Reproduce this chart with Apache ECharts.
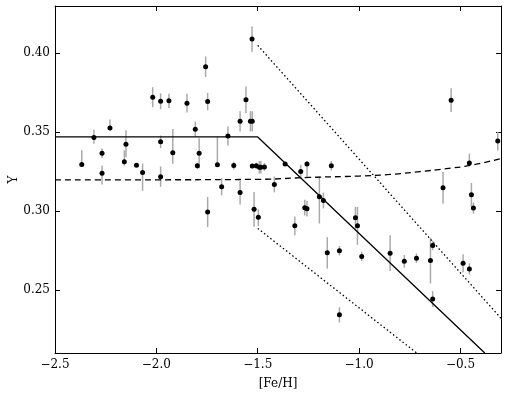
<!DOCTYPE html>
<html>
<head>
<meta charset="utf-8">
<script src="https://cdn.jsdelivr.net/npm/echarts@6/dist/echarts.min.js"></script>
<style>
  html, body { margin: 0; padding: 0; background: #fff; }
  #chart { width: 509px; height: 393px; }
</style>
</head>
<body>
<div id="chart"></div>
<script>
// star data: [Fe/H], Y and its error bar (minus / plus)
var feh = [-2.368, -2.308, -2.268, -2.268, -2.229, -2.158, -2.150, -2.098, -2.068, -2.018,
    -1.979, -1.979, -1.979, -1.938, -1.919, -1.849, -1.808, -1.798, -1.789, -1.757,
    -1.747, -1.747, -1.699, -1.678, -1.647, -1.618, -1.587, -1.587, -1.558, -1.536,
    -1.527, -1.528, -1.527, -1.507, -1.492, -1.485, -1.467, -1.518, -1.497, -1.418,
    -1.365, -1.288, -1.257, -1.137, -1.196, -1.176, -1.268, -1.257, -1.317, -1.018,
    -1.008, -1.157, -1.097, -1.097, -0.987, -0.847, -0.777, -0.717, -0.648, -0.637,
    -0.637, -0.487, -0.456, -0.446, -0.436, -0.586, -0.456, -0.546, -0.316];
var yHe = [0.3295, 0.3466, 0.3367, 0.3239, 0.3526, 0.3312, 0.3423, 0.3290, 0.3244, 0.3722,
    0.3696, 0.3439, 0.3218, 0.3699, 0.3370, 0.3684, 0.3519, 0.3287, 0.3367, 0.3915,
    0.3694, 0.2994, 0.3293, 0.3154, 0.3476, 0.3288, 0.3569, 0.3117, 0.3705, 0.3569,
    0.3569, 0.4090, 0.3285, 0.3287, 0.3278, 0.3278, 0.3280, 0.3011, 0.2960, 0.3169,
    0.3299, 0.3250, 0.3298, 0.3287, 0.3091, 0.3067, 0.3021, 0.3015, 0.2906, 0.2957,
    0.2906, 0.2735, 0.2748, 0.2342, 0.2712, 0.2733, 0.2681, 0.2701, 0.2686, 0.2782,
    0.2442, 0.2669, 0.2633, 0.3103, 0.3019, 0.3147, 0.3304, 0.3703, 0.3444];
var errLo = [0.001, 0.004, 0.003, 0.007, 0.0015, 0.0025, 0.008, 0.001, 0.0116, 0.0063,
    0.005, 0.004, 0.0065, 0.0045, 0.007, 0.006, 0.0048, 0.002, 0.0095, 0.0065,
    0.0055, 0.0095, 0.001, 0.0055, 0.006, 0.0025, 0.0064, 0.0075, 0.0085, 0.0064,
    0.0064, 0.008, 0.0015, 0.002, 0.004, 0.004, 0.0025, 0.011, 0.0056, 0.005,
    0.001, 0.0043, 0.008, 0.003, 0.017, 0.005, 0.005, 0.005, 0.006, 0.007,
    0.012, 0.010, 0.003, 0.0048, 0.003, 0.0113, 0.004, 0.003, 0.0145, 0.003,
    0.005, 0.0057, 0.0035, 0.0075, 0.0035, 0.010, 0.001, 0.0075, 0.006];
var errHi = [0.009, 0.005, 0.003, 0.005, 0.0055, 0.0073, 0.009, 0.001, 0.0057, 0.0063,
    0.005, 0.004, 0.0065, 0.0045, 0.015, 0.006, 0.0048, 0.002, 0.0095, 0.0065,
    0.0055, 0.0095, 0.018, 0.0055, 0.006, 0.0025, 0.0064, 0.0075, 0.0085, 0.0064,
    0.0064, 0.008, 0.0015, 0.002, 0.004, 0.004, 0.0025, 0.011, 0.005, 0.005,
    0.001, 0.0043, 0.002, 0.003, 0.013, 0.005, 0.005, 0.005, 0.006, 0.007,
    0.012, 0.010, 0.003, 0.0048, 0.003, 0.0113, 0.004, 0.003, 0.0145, 0.003,
    0.005, 0.0057, 0.0035, 0.0075, 0.0035, 0.010, 0.006, 0.0075, 0.0057];

// model lines
var solidLine = [[-2.5, 0.347], [-1.5, 0.347], [-0.38, 0.21]];
var upperDotted = [[-1.5, 0.405], [-0.3, 0.232]];
var lowerDotted = [[-1.5, 0.289], [-0.716, 0.21]];
var dashedCurve = [[-2.5, 0.3197], [-2.0, 0.3198], [-1.5, 0.3201], [-1.25, 0.3213], [-1.0, 0.3222],
    [-0.85, 0.3232], [-0.7, 0.3250], [-0.58, 0.3267], [-0.45, 0.3290], [-0.3, 0.3333]];

// tick labels
var xTicks = [-2.5, -2.0, -1.5, -1.0, -0.5];
var yTicks = [0.25, 0.30, 0.35, 0.40];

var myChart = echarts.init(document.getElementById('chart'));

var points = [];
var bars = [];
for (var i = 0; i < feh.length; i++) {
    points.push([feh[i], yHe[i]]);
    bars.push([feh[i], yHe[i] - errLo[i], yHe[i] + errHi[i]]);
}

var font = 'DejaVu Serif';
var axisLine = {show: true, onZero: false, lineStyle: {color: '#000', width: 1}};

var option = {
    backgroundColor: '#fff',
    animation: false,
    grid: {left: 55, right: 8, top: 6, bottom: 40, outerBoundsMode: 'none', containLabel: false},
    xAxis: [{
        type: 'value', min: -2.5, max: -0.3,
        axisLine: axisLine,
        axisTick: {show: true, inside: true, length: 5, customValues: xTicks, lineStyle: {color: '#000'}},
        axisLabel: {
            customValues: xTicks, margin: 6, color: '#000', fontFamily: font, fontSize: 12,
            formatter: function (v) { return v.toFixed(1).replace('-', '\u2212'); }
        },
        splitLine: {show: false},
        name: '[Fe/H]', nameLocation: 'middle', nameGap: 25, nameMoveOverlap: false,
        nameTextStyle: {color: '#000', fontFamily: font, fontSize: 12}
    }, {
        type: 'value', min: -2.5, max: -0.3, position: 'top',
        axisLine: axisLine,
        axisTick: {show: true, inside: true, length: 5, customValues: xTicks, lineStyle: {color: '#000'}},
        axisLabel: {show: false},
        splitLine: {show: false}
    }],
    yAxis: [{
        type: 'value', min: 0.21, max: 0.43,
        axisLine: axisLine,
        axisTick: {show: true, inside: true, length: 5, customValues: yTicks, lineStyle: {color: '#000'}},
        axisLabel: {
            customValues: yTicks, margin: 5, color: '#000', fontFamily: font, fontSize: 12,
            formatter: function (v) { return v.toFixed(2); }
        },
        splitLine: {show: false},
        name: 'Y', nameLocation: 'middle', nameGap: 35, nameRotate: 90, nameMoveOverlap: false,
        nameTextStyle: {color: '#000', fontFamily: font, fontSize: 12}
    }, {
        type: 'value', min: 0.21, max: 0.43, position: 'right',
        axisLine: axisLine,
        axisTick: {show: true, inside: true, length: 5, customValues: yTicks, lineStyle: {color: '#000'}},
        axisLabel: {show: false},
        splitLine: {show: false}
    }],
    series: [{
        name: 'errors',
        type: 'custom',
        clip: true,
        data: bars,
        renderItem: function (params, api) {
            var p0 = api.coord([api.value(0), api.value(1)]);
            var p1 = api.coord([api.value(0), api.value(2)]);
            return {
                type: 'line',
                shape: {x1: p0[0], y1: p0[1], x2: p1[0], y2: p1[1]},
                style: {stroke: '#aaaaaa', lineWidth: 1.5}
            };
        },
        z: 1
    }, {
        name: 'solid',
        type: 'line', data: solidLine, symbol: 'none', clip: true,
        lineStyle: {color: '#000', width: 1.3}, z: 2
    }, {
        name: 'upper',
        type: 'line', data: upperDotted, symbol: 'none', clip: true,
        lineStyle: {color: '#000', width: 1.3, type: [1.5, 2.5]}, z: 2
    }, {
        name: 'lower',
        type: 'line', data: lowerDotted, symbol: 'none', clip: true,
        lineStyle: {color: '#000', width: 1.3, type: [1.5, 2.5]}, z: 2
    }, {
        name: 'model',
        type: 'line', data: dashedCurve, symbol: 'none', smooth: true, clip: true,
        lineStyle: {color: '#000', width: 1.3, type: [6, 4]}, z: 2
    }, {
        name: 'stars',
        type: 'scatter', data: points, symbol: 'circle', symbolSize: 5,
        itemStyle: {color: '#000', opacity: 1}, z: 3
    }]
};
myChart.setOption(option);
</script>
</body>
</html>
